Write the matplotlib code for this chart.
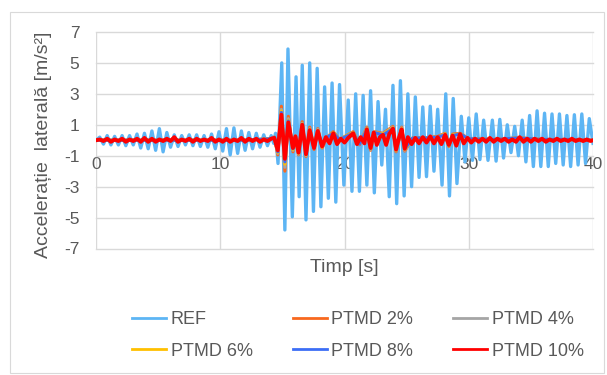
import matplotlib
matplotlib.use('Agg')
import matplotlib.pyplot as plt
from matplotlib.patches import Rectangle

plt.rcParams['font.family'] = ['Liberation Sans', 'DejaVu Sans']
plt.rcParams['axes.unicode_minus'] = False

# ---------------- data ----------------
ref_t = [0.0, 0.3, 0.6, 0.9, 1.2, 1.5, 1.8, 2.1, 2.4, 2.7,
         3.0, 3.3, 3.6, 3.9, 4.2, 4.5, 4.8, 5.1, 5.4, 5.7,
         6.0, 6.3, 6.6, 6.9, 7.2, 7.5, 7.8, 8.1, 8.4, 8.7,
         9.0, 9.3, 9.6, 9.9, 10.2, 10.5, 10.8, 11.1, 11.4, 11.7,
         12.0, 12.3, 12.6, 12.9, 13.2, 13.5, 13.8, 14.1, 14.3, 14.45, 14.65,
         14.95, 15.2, 15.45, 15.8, 16.1, 16.35, 16.6, 16.9, 17.2, 17.5,
         17.8, 18.1, 18.4, 18.7, 19.0, 19.3, 19.6, 19.95, 20.3, 20.6,
         20.9, 21.2, 21.5, 21.8, 22.1, 22.4, 22.7, 23.0, 23.3, 23.6,
         23.9, 24.2, 24.5, 24.8, 25.1, 25.4, 25.7, 26.0, 26.3, 26.6,
         26.9, 27.2, 27.5, 27.85, 28.15, 28.45, 28.75, 29.05, 29.4, 29.7,
         30.0, 30.3, 30.6, 30.9, 31.2, 31.55, 31.9, 32.2, 32.5, 32.8,
         33.1, 33.4, 33.7, 34.0, 34.3, 34.6, 34.9, 35.2, 35.5, 35.8,
         36.1, 36.4, 36.7, 37.0, 37.3, 37.6, 37.9, 38.2, 38.5, 38.8,
         39.1, 39.4, 39.7, 40.0]
ref_a = [0.0, 0.2, -0.25, 0.3, -0.3, 0.25, -0.3, 0.3, -0.35, 0.3,
         -0.3, 0.4, -0.5, 0.45, -0.55, 0.6, -0.65, 0.75, -0.75, 0.5,
         -0.45, 0.35, -0.4, 0.3, -0.3, 0.35, -0.35, 0.35, -0.4, 0.3,
         -0.45, 0.4, -0.55, 0.55, -0.7, 0.75, -0.95, 0.8, -0.85, 0.6,
         -0.65, 0.5, -0.55, 0.45, -0.45, 0.35, -0.35, 0.3, -0.2, 0.45, -1.5,
         5.0, -5.8, 5.9, -4.95, 4.1, -3.65, 4.85, -5.15, 5.0, -4.6,
         4.65, -4.3, 3.45, -3.75, 3.7, -4.0, 3.6, -2.9, 2.6, -3.3,
         3.0, -3.3, 2.9, -2.9, 3.2, -3.4, 2.5, -1.6, 2.0, -3.65,
         3.55, -4.1, 3.85, -3.6, 3.0, -3.0, 2.8, -2.4, 2.15, -2.35,
         2.2, -2.0, 2.0, -2.9, 3.0, -3.6, 2.7, -2.8, 1.55, -1.4,
         1.45, -1.3, 1.7, -1.25, 1.3, -1.3, 1.3, -1.35, 1.35, -1.15,
         1.0, -0.8, 0.9, -1.0, 1.3, -1.4, 1.6, -1.7, 1.9, -1.7,
         1.75, -1.7, 1.7, -1.5, 1.7, -1.6, 1.6, -1.7, 1.65, -1.6,
         1.7, -1.5, 1.4, -0.2]

p10_t = [0.0, 0.3, 0.6, 0.9, 1.2, 1.5, 1.8, 2.1, 2.4, 2.7,
         3.0, 3.3, 3.6, 3.9, 4.2, 4.5, 4.8, 5.1, 5.4, 5.7,
         6.0, 6.3, 6.6, 6.9, 7.2, 7.5, 7.8, 8.1, 8.4, 8.7,
         9.0, 9.3, 9.6, 9.9, 10.2, 10.5, 10.8, 11.1, 11.4, 11.7,
         12.0, 12.3, 12.6, 12.9, 13.2, 13.5, 13.8, 14.1,
         14.35, 14.63, 14.92, 15.2, 15.48, 15.85, 16.05, 16.3, 16.6, 16.9,
         17.2, 17.55, 17.85, 18.2, 18.5, 18.8, 19.1, 19.4, 19.7, 20.0,
         20.3, 20.7, 21.0, 21.3, 21.6, 21.8, 22.1, 22.35, 22.6, 22.85,
         23.1, 23.35, 23.6, 23.9, 24.15, 24.4, 24.6, 24.85, 25.1, 25.4,
         25.7, 26.0, 26.3, 26.6, 26.9, 27.2, 27.5, 27.8, 28.1, 28.4,
         28.7, 29.0, 29.3, 29.6, 29.9, 30.2, 30.5, 30.8, 31.1, 31.4,
         31.7, 32.0, 32.3, 32.6, 32.9, 33.2, 33.5, 33.8, 34.1, 34.4,
         34.7, 35.0, 35.3, 35.6, 35.9, 36.2, 36.5, 36.8, 37.1, 37.4,
         37.7, 38.0, 38.3, 38.6, 38.9, 39.2, 39.5, 39.8, 40.0]
p10_a = [0.0, 0.05, -0.05, 0.1, -0.1, 0.05, -0.05, 0.1, -0.1, 0.05,
         -0.05, 0.1, -0.1, 0.15, -0.1, 0.1, -0.1, 0.05, -0.05, 0.1,
         -0.05, 0.2, -0.1, 0.05, -0.05, 0.1, -0.1, 0.1, -0.05, 0.05,
         -0.05, 0.15, -0.1, 0.05, -0.1, 0.1, -0.1, 0.05, -0.05, 0.15,
         -0.1, 0.1, -0.05, 0.1, -0.1, 0.05, -0.05, 0.1,
         0.15, -0.65, 1.65, -1.2, 1.15, -0.5, 0.25, -0.8, 1.0, -0.9,
         0.65, -0.5, 0.6, -0.4, 0.2, -0.2, 0.45, -0.25, 0.1, -0.15,
         0.15, 0.45, -0.25, 0.2, -0.2, 0.7, -0.5, 0.5, -0.3, 0.2,
         0.35, -0.3, 0.4, 0.75, -0.6, 0.2, 0.7, -0.55, 0.2, -0.25,
         0.15, -0.2, 0.2, -0.15, 0.25, -0.2, 0.2, -0.25, 0.35, -0.3,
         0.3, -0.35, 0.4, -0.2, 0.15, -0.15, 0.1, -0.1, 0.1, -0.1,
         0.15, -0.1, 0.1, -0.05, 0.1, -0.1, 0.05, -0.1, 0.2, -0.1,
         0.1, -0.1, 0.1, -0.05, 0.1, -0.1, 0.05, -0.05, 0.1, -0.05,
         0.05, -0.05, 0.1, -0.05, 0.05, -0.05, 0.05, -0.05, 0.0]

ptmd_t = [0.0, 2.0, 4.0, 6.0, 8.0, 10.0, 12.0, 14.1, 14.35, 14.63,
          14.92, 15.2, 15.48, 15.85, 16.05, 16.3, 16.6, 16.9, 17.2, 17.55,
          17.85, 18.2, 18.6, 19.1, 19.6, 20.7, 21.2, 21.8, 22.1, 22.4,
          23.1, 23.9, 24.15, 24.6, 24.85, 25.5, 26.5, 27.5, 28.1, 28.4,
          28.7, 29.3, 30.0, 32.0, 34.0, 36.0, 38.0, 40.0]
p2_a = [0.0, 0.0, 0.0, 0.0, 0.0, 0.0, 0.0, 0.1, 0.2, -0.95,
        2.2, -2.0, 1.55, -0.75, 0.3, -0.95, 1.2, -1.05, 0.85, -0.6,
        0.75, -0.5, 0.2, 0.55, 0.05, 0.55, -0.3, 0.85, -0.65, 0.55,
        0.45, 0.9, -0.75, 0.85, -0.7, 0.15, 0.15, 0.25, 0.45, -0.4,
        0.4, 0.45, 0.1, 0.05, 0.15, 0.05, 0.05, 0.0]
p4_a = [0.0, 0.0, 0.0, 0.0, 0.0, 0.0, 0.0, 0.1, 0.2, -0.85,
        2.0, -1.75, 1.4, -0.65, 0.3, -0.9, 1.1, -1.0, 0.75, -0.55,
        0.7, -0.45, 0.2, 0.5, 0.05, 0.5, -0.25, 0.8, -0.6, 0.5,
        0.4, 0.85, -0.7, 0.8, -0.65, 0.15, 0.15, 0.2, 0.4, -0.35,
        0.35, 0.4, 0.1, 0.05, 0.15, 0.05, 0.05, 0.0]
p6_a = [0.0, 0.0, 0.0, 0.0, 0.0, 0.0, 0.0, 0.1, 0.2, -0.8,
        1.9, -1.55, 1.3, -0.6, 0.25, -0.85, 1.05, -0.95, 0.7, -0.5,
        0.65, -0.45, 0.2, 0.5, 0.05, 0.5, -0.25, 0.75, -0.55, 0.5,
        0.4, 0.8, -0.65, 0.75, -0.6, 0.15, 0.15, 0.2, 0.4, -0.35,
        0.35, 0.4, 0.1, 0.05, 0.15, 0.05, 0.05, 0.0]
p8_a = [0.0, 0.0, 0.0, 0.0, 0.0, 0.0, 0.0, 0.1, 0.2, -0.75,
        1.8, -1.4, 1.25, -0.55, 0.25, -0.8, 1.0, -0.9, 0.65, -0.5,
        0.6, -0.4, 0.2, 0.45, 0.05, 0.45, -0.25, 0.7, -0.5, 0.5,
        0.35, 0.75, -0.6, 0.7, -0.55, 0.15, 0.15, 0.2, 0.35, -0.3,
        0.3, 0.4, 0.1, 0.05, 0.15, 0.05, 0.05, 0.0]

series_names = ['REF', 'PTMD 2%', 'PTMD 4%', 'PTMD 6%', 'PTMD 8%', 'PTMD 10%']
x_ticks = [0, 10, 20, 30, 40]
y_ticks = [-7, -5, -3, -1, 1, 3, 5, 7]

# ---------------- styling ----------------
colors = ['#5DB5F4', '#F8681E', '#A5A5A5', '#FFC000', '#3C6EF6', '#FF0000']
widths = [2.4, 2.2, 2.2, 2.2, 2.2, 2.8]
txt = '#595959'
W, H = 607, 375

fig = plt.figure(figsize=(W / 100, H / 100), dpi=100)
ax = fig.add_axes([96 / W, 1 - 248.5 / H, (593 - 96) / W, (248.5 - 32) / H])

data = [(ref_t, ref_a), (ptmd_t, p2_a), (ptmd_t, p4_a), (ptmd_t, p6_a),
        (ptmd_t, p8_a), (p10_t, p10_a)]
handles = []
for (t, a), name, c, lw in zip(data, series_names, colors, widths):
    h, = ax.plot(t, a, color=c, lw=lw, label=name, solid_joinstyle='round')
    handles.append(h)

ax.set_xlim(0, 40)
ax.set_ylim(-7, 7)
ax.set_xticks(x_ticks)
ax.set_yticks(y_ticks)
ax.set_yticklabels([str(v) for v in y_ticks])
ax.grid(True, color='#D9D9D9', lw=1.0)
ax.set_axisbelow(True)
for gl in ax.get_xgridlines() + ax.get_ygridlines():
    gl.set_clip_on(False)
for s in ax.spines.values():
    s.set_visible(False)
ax.spines['bottom'].set_position(('data', 0))
ax.tick_params(length=0, colors=txt, labelsize=12.5)
ax.tick_params(axis='y', pad=12)
ax.tick_params(axis='x', pad=12)

fig.text(44 / W, 1 - 144.5 / H, 'Accelerație  laterală [m/s²]', rotation=90,
         ha='center', va='center', fontsize=14, color=txt)
fig.text(344 / W, 1 - 268 / H, 'Timp [s]', ha='center', va='center',
         fontsize=14, color=txt)

order = [0, 3, 1, 4, 2, 5]
leg = fig.legend([handles[i] for i in order], [series_names[i] for i in order],
                 ncol=3, loc='center', bbox_to_anchor=(358 / W, 1 - 335.5 / H),
                 frameon=False, fontsize=13, handlelength=1.9,
                 handletextpad=0.25, columnspacing=2.2, labelspacing=0.8)
for tx in leg.get_texts():
    tx.set_color(txt)
for ln in leg.get_lines():
    ln.set_linewidth(2.0)

fig.add_artist(Rectangle((10 / W, 2 / H), 594 / W, (H - 14) / H, fill=False,
                         edgecolor='#D9D9D9', lw=0.8, transform=fig.transFigure))

fig.savefig('out.png', dpi=100)
